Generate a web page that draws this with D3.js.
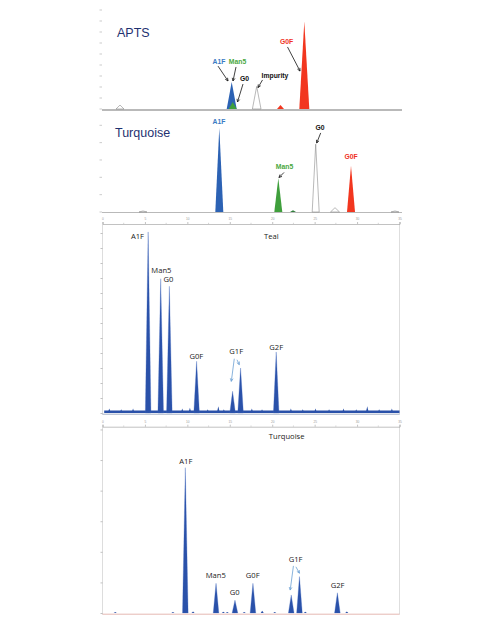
<!DOCTYPE html>
<html>
<head>
<meta charset="utf-8">
<script src="https://cdn.jsdelivr.net/npm/d3@7"></script>
<style>
  body { margin: 0; background: #fff; }
  svg { display: block; }
</style>
</head>
<body>
<div id="chart"></div>
<script>
// ---- data (retention time in min, relative signal) ----
// APTS panel
var aptsTimes   = [1.8, 12.97, 13.07, 15.47, 17.85, 20.23];
var aptsHeights = [0.36, 2.45, 0.64, 2.05, 0.36, 7.95];
var aptsWidths  = [0.4, 0.5, 0.4, 0.43, 0.35, 0.5];
var aptsKinds   = ["open", "blue", "green", "open", "red", "red"];

// Turquoise (top) panel
var turqTimes   = [4.1, 11.73, 17.63, 19.1, 21.37, 23.3, 24.9, 29.3];
var turqHeights = [0.06, 4.86, 1.94, 0.1, 3.91, 0.25, 2.67, 0.06];
var turqWidths  = [0.4, 0.4, 0.4, 0.3, 0.35, 0.45, 0.4, 0.4];
var turqKinds   = ["open", "blue", "green", "dkgreen", "open", "open", "red", "open"];

// Teal panel
var tealNames   = ["A1F", "Man5", "G0", "G0F", "G1F", "G1F", "G2F"];
var tealTimes   = [5.38, 6.86, 7.88, 11.09, 15.33, 16.27, 20.47];
var tealHeights = [12.07, 8.95, 8.45, 3.45, 1.45, 3.0, 4.07];
var tealNoiseT  = [0.8, 2.2, 3.6, 9.4, 10.3, 12.4, 13.65, 14.3, 17.6, 18.8, 22.2, 23.6, 25.1, 26.7, 28.4, 29.9, 31.2, 32.6, 34.1];
var tealNoiseH  = [0.3, 0.25, 0.3, 0.3, 0.35, 0.25, 0.45, 0.25, 0.3, 0.25, 0.3, 0.25, 0.3, 0.25, 0.3, 0.25, 0.45, 0.25, 0.3];

// Turquoise (bottom) panel
var turq2Names   = ["A1F", "Man5", "G0", "G0F", "G1F", "G1F", "G2F"];
var turq2Times   = [9.76, 13.38, 15.61, 17.73, 22.24, 23.21, 27.68];
var turq2Heights = [4.75, 0.97, 0.42, 0.97, 0.59, 1.19, 0.66];
var turq2NoiseT  = [1.5, 8.3, 10.67, 14.24, 14.7, 16.7, 18.82, 20.3, 23.9, 28.79];
var turq2NoiseH  = [0.03, 0.03, 0.05, 0.04, 0.03, 0.03, 0.07, 0.03, 0.04, 0.05];

var axisTicks35 = [0, 5, 10, 15, 20, 25, 30, 35];

var fills = {
  blue: "#2c62b4", green: "#3f9f3c", red: "#f2361f",
  dkgreen: "#2f7d3a", open: "#ffffff"
};
var peakBlue = "#2a51a9";

var svg = d3.select("#chart").append("svg")
  .attr("width", 500)
  .attr("height", 626);

function peakPts(t, h, w) { return [[t - w, 0], [t, h], [t + w, 0]]; }

function drawArrow(g, x, y, a, col) {
  // a = [t0, v0, t1, v1], head at (t1, v1)
  var x0 = x(a[0]), y0 = y(a[1]), x1 = x(a[2]), y1 = y(a[3]);
  var ang = Math.atan2(y1 - y0, x1 - x0), L = 3.2, s = 0.45;
  g.append("line").attr("x1", x0).attr("y1", y0).attr("x2", x1).attr("y2", y1)
    .attr("stroke", col).attr("stroke-width", 0.8);
  g.append("path")
    .attr("d", "M" + (x1 - L * Math.cos(ang - s)) + "," + (y1 - L * Math.sin(ang - s)) +
      "L" + x1 + "," + y1 +
      "L" + (x1 - L * Math.cos(ang + s)) + "," + (y1 - L * Math.sin(ang + s)))
    .attr("fill", "none").attr("stroke", col).attr("stroke-width", 0.8);
}

// ---------- small bold-label panels (APTS / Turquoise) ----------
function smallPanel(opt) {
  var g = svg.append("g");
  var x = d3.scaleLinear().domain([0, 30]).range([102, 402]);
  var y = d3.scaleLinear().domain([0, opt.ymax]).range(opt.yr);

  // y ticks only
  g.selectAll(".yt").data(d3.range(0, opt.ymax + 0.01, 1)).enter().append("line")
    .attr("x1", 99.5).attr("x2", 102).attr("y1", d => y(d)).attr("y2", d => y(d))
    .attr("stroke", "#aaa").attr("stroke-width", 0.6);

  g.append("line").attr("x1", x(0)).attr("x2", x(30)).attr("y1", y(0) + opt.bw / 2).attr("y2", y(0) + opt.bw / 2)
    .attr("stroke", "#b9b9b9").attr("stroke-width", opt.bw);

  var area = d3.area().x(d => x(d[0])).y0(y(0)).y1(d => y(d[1]));
  opt.times.forEach(function (t, i) {
    var k = opt.kinds[i];
    g.append("path").attr("d", area(peakPts(t, opt.heights[i], opt.widths[i])))
      .attr("fill", fills[k])
      .attr("stroke", k === "open" ? "#8a8a8a" : "none")
      .attr("stroke-width", 0.6);
  });

  g.append("text").attr("x", opt.title[0]).attr("y", opt.title[1])
    .attr("font-family", "Liberation Sans, Arial, sans-serif")
    .attr("font-size", opt.title[3]).attr("fill", "#1e3170")
    .text(opt.title[2]);

  opt.labels.forEach(function (l) {
    g.append("text").attr("x", x(l.t)).attr("y", y(l.v))
      .attr("text-anchor", "middle").attr("dominant-baseline", "middle")
      .attr("font-family", "Liberation Sans, Arial, sans-serif")
      .attr("font-weight", "bold").attr("font-size", 6.8)
      .attr("fill", l.c).text(l.s);
    if (l.a) drawArrow(g, x, y, l.a, "#111");
  });
}

smallPanel({
  ymax: 9, yr: [109, 10], bw: 2,
  times: aptsTimes, heights: aptsHeights, widths: aptsWidths, kinds: aptsKinds,
  title: [117, 37, "APTS", 12.5],
  labels: [
    { s: "A1F", t: 11.7, v: 4.27, c: "#3a7cc4", a: [11.6, 3.9, 12.6, 2.55] },
    { s: "Man5", t: 13.55, v: 4.27, c: "#4aa83e", a: [13.4, 3.82, 13.1, 2.55] },
    { s: "G0", t: 14.25, v: 2.73, c: "#111", a: [14.1, 2.27, 13.55, 0.64] },
    { s: "Impurity", t: 17.3, v: 3.0, c: "#111", a: [16.05, 2.64, 15.6, 1.95] },
    { s: "G0F", t: 18.45, v: 6.09, c: "#f0321f", a: [18.55, 5.64, 19.8, 3.45] }
  ]
});

smallPanel({
  ymax: 5, yr: [212, 125.3], bw: 1,
  times: turqTimes, heights: turqHeights, widths: turqWidths, kinds: turqKinds,
  title: [115, 137, "Turquoise", 12.5],
  labels: [
    { s: "A1F", t: 11.7, v: 5.16, c: "#3a7cc4" },
    { s: "Man5", t: 18.25, v: 2.6, c: "#4aa83e", a: [18.2, 2.28, 17.7, 1.99] },
    { s: "G0", t: 21.8, v: 4.85, c: "#111", a: [21.87, 4.56, 21.47, 3.98] },
    { s: "G0F", t: 24.9, v: 3.17, c: "#f0321f" }
  ]
});

// ---------- framed panels (Teal / Turquoise) ----------
function bigPanel(opt) {
  var g = svg.append("g");
  var x = d3.scaleLinear().domain([0, 35]).range([102.5, 399.5]);
  var y = d3.scaleLinear().domain([0, opt.ymax]).range([opt.base, opt.top]);

  // frame
  g.append("line").attr("x1", 399.5).attr("x2", 399.5).attr("y1", opt.top).attr("y2", opt.base + 1.5)
    .attr("stroke", "#d6d6d6").attr("stroke-width", 0.8);
  g.append("line").attr("x1", 102.5).attr("x2", 102.5).attr("y1", opt.top).attr("y2", opt.base + 1.5)
    .attr("stroke", "#cfcfcf").attr("stroke-width", 0.7);

  var top = d3.axisTop(x).tickValues(axisTicks35).tickSize(2).tickFormat(d3.format("d"));
  var ta = g.append("g").attr("transform", "translate(0," + opt.top + ")").call(top);
  ta.select(".domain").attr("stroke", "#a8a8a8").attr("stroke-width", 0.7);
  ta.selectAll(".tick line").attr("stroke", "#999").attr("stroke-width", 0.6);
  ta.selectAll(".tick text").attr("font-size", 3.2).attr("fill", "#999").attr("dy", "0.3em");
  var minor = d3.range(2.5, 35, 5);
  g.selectAll(".mt").data(minor).enter().append("line")
    .attr("x1", d => x(d)).attr("x2", d => x(d)).attr("y1", opt.top).attr("y2", opt.top - 1.2)
    .attr("stroke", "#aaa").attr("stroke-width", 0.5);

  var left = d3.axisLeft(y).tickValues(d3.range(0, opt.ymax, opt.ystep)).tickSize(2).tickFormat("");
  var la = g.append("g").attr("transform", "translate(102.5,0)").call(left);
  la.select(".domain").remove();
  la.selectAll(".tick line").attr("stroke", "#999").attr("stroke-width", 0.6);

  var area = d3.area().x(d => x(d[0])).y0(y(0)).y1(d => y(d[1]));

  if (opt.band) {
    g.append("path").attr("d", area([[0.2, opt.band], [35, opt.band]])).attr("fill", peakBlue);
  }
  opt.noiseT.forEach(function (t, i) {
    g.append("path").attr("d", area(peakPts(t, opt.noiseH[i], 0.18))).attr("fill", peakBlue);
  });
  opt.times.forEach(function (t, i) {
    g.append("path").attr("d", area(peakPts(t, opt.heights[i], 0.33)))
      .attr("fill", peakBlue).attr("stroke", "#3d66bd").attr("stroke-width", 0.3);
  });

  g.append("line").attr("x1", 102.5).attr("x2", 399.5).attr("y1", opt.base + 1.2).attr("y2", opt.base + 1.2)
    .attr("stroke", opt.baseCol).attr("stroke-width", 0.9);

  opt.labels.forEach(function (l) {
    g.append("text").attr("x", x(l.t)).attr("y", y(l.v))
      .attr("text-anchor", "middle").attr("dominant-baseline", "middle")
      .attr("font-family", "Open Sans, Liberation Sans, sans-serif")
      .attr("font-size", 7.6).attr("fill", "#1a1a1a").text(l.s);
  });
  opt.arrows.forEach(function (a) { drawArrow(g, x, y, a, "#6b9fd3"); });
}

bigPanel({
  ymax: 12.6, ystep: 1, base: 413, top: 224, band: 0.16, baseCol: "#9aa6c0",
  times: tealTimes, heights: tealHeights, noiseT: tealNoiseT, noiseH: tealNoiseH,
  labels: [
    { s: "A1F", t: 4.12, v: 11.73 },
    { s: "Teal", t: 19.9, v: 11.73 },
    { s: "Man5", t: 6.94, v: 9.47 },
    { s: "G0", t: 7.78, v: 8.87 },
    { s: "G0F", t: 11.06, v: 3.73 },
    { s: tealNames[4], t: 15.76, v: 4.07 },
    { s: "G2F", t: 20.47, v: 4.33 }
  ],
  arrows: [[15.53, 3.62, 15.18, 2.11], [15.85, 3.55, 16.12, 3.22]]
});

bigPanel({
  ymax: 6.09, ystep: 1, base: 613, top: 426.7, band: 0, baseCol: "#e2b0aa",
  times: turq2Times, heights: turq2Heights, noiseT: turq2NoiseT, noiseH: turq2NoiseH,
  labels: [
    { s: "Turquoise", t: 21.7, v: 5.75 },
    { s: "A1F", t: 9.82, v: 4.93 },
    { s: "Man5", t: 13.35, v: 1.21 },
    { s: "G0", t: 15.59, v: 0.65 },
    { s: "G0F", t: 17.7, v: 1.21 },
    { s: turq2Names[4], t: 22.76, v: 1.73 },
    { s: "G2F", t: 27.7, v: 0.88 }
  ],
  arrows: [[22.5, 1.54, 22.12, 0.75], [22.79, 1.51, 23.21, 1.3]]
});
</script>
</body>
</html>
